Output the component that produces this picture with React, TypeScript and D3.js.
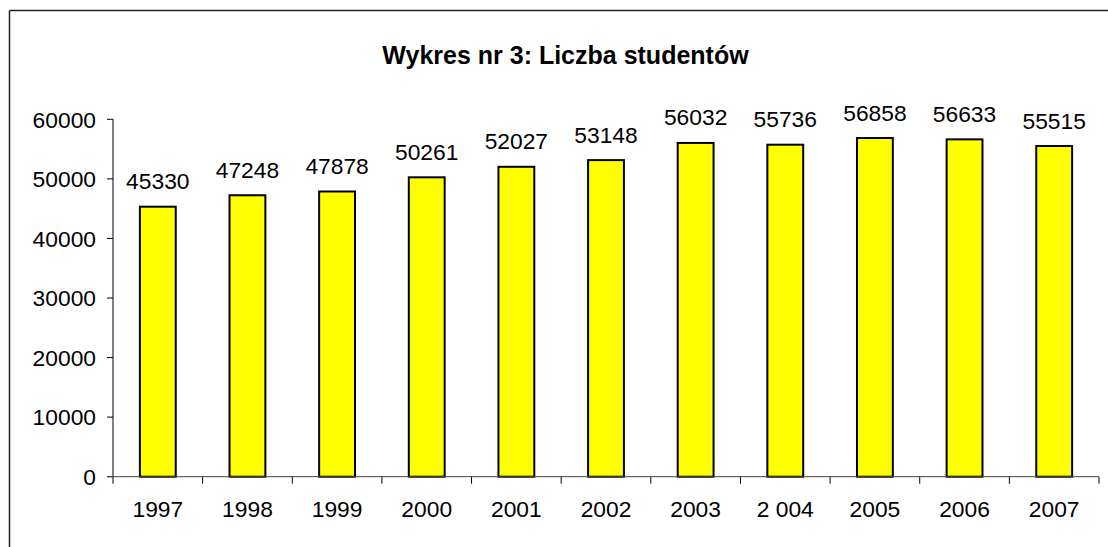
import React from "react";
import * as d3 from "d3";

const categories = ["1997", "1998", "1999", "2000", "2001", "2002", "2003", "2 004", "2005", "2006", "2007"];
const values = [45330, 47248, 47878, 50261, 52027, 53148, 56032, 55736, 56858, 56633, 55515];
const yTicks = [0, 10000, 20000, 30000, 40000, 50000, 60000];
const title = "Wykres nr 3: Liczba studentów";

export default function App() {
  const W = 1108, H = 547;
  const x0 = 113, x1 = 1099, yTop = 119.3, yBot = 476.7;
  const x = d3.scaleBand().domain(categories).range([x0, x1]).paddingInner(0.6).paddingOuter(0.3);
  const xc = d3.scaleBand().domain(categories).range([x0, x1]);
  const y = d3.scaleLinear().domain([0, 60000]).range([yBot, yTop]);
  const font = "Arial, 'Liberation Sans', sans-serif";
  return (
    <svg width={W} height={H} style={{ position: "absolute", left: 0, top: 0, display: "block" }} fontFamily={font}>
      <rect x={0} y={0} width={W} height={H} fill="#fff" />
      <line x1={9.5} y1={10.5} x2={W} y2={10.5} stroke="#222" strokeWidth={1.5} />
      <line x1={9.5} y1={10.5} x2={9.5} y2={H} stroke="#222" strokeWidth={1.5} />
      <text x={565.5} y={64} textAnchor="middle" fontSize={25} fontWeight="bold">{title}</text>
      {yTicks.map(t => (
        <g key={t}>
          <line x1={x0 - 6} x2={x0} y1={y(t)} y2={y(t)} stroke="#000" />
          <text x={96} y={y(t)} dy="0.36em" textAnchor="end" fontSize={22.8}>{t}</text>
        </g>
      ))}
      {categories.map((c, i) => (
        <g key={c}>
          <rect x={x(c)!} y={y(values[i])} width={x.bandwidth()} height={yBot - y(values[i])} fill="#ffff00" stroke="#000" strokeWidth={2} />
          <text x={x(c)! + x.bandwidth() / 2} y={y(values[i]) - 17.5} textAnchor="middle" fontSize={22.8}>{values[i]}</text>
          <text x={xc(c)! + xc.bandwidth() / 2} y={517} textAnchor="middle" fontSize={22.8}>{c}</text>
        </g>
      ))}
      {categories.map((c, i) => (
        <line key={"t" + i} x1={xc(c)! + xc.bandwidth()} x2={xc(c)! + xc.bandwidth()} y1={yBot} y2={yBot + 7} stroke="#000" />
      ))}
      <line x1={x0} x2={x0} y1={yBot + 7} y2={yBot} stroke="#000" />
      <line x1={x0} x2={x0} y1={yTop} y2={yBot} stroke="#000" />
      <line x1={x0 - 6} x2={x1} y1={yBot} y2={yBot} stroke="#444" />
    </svg>
  );
}
